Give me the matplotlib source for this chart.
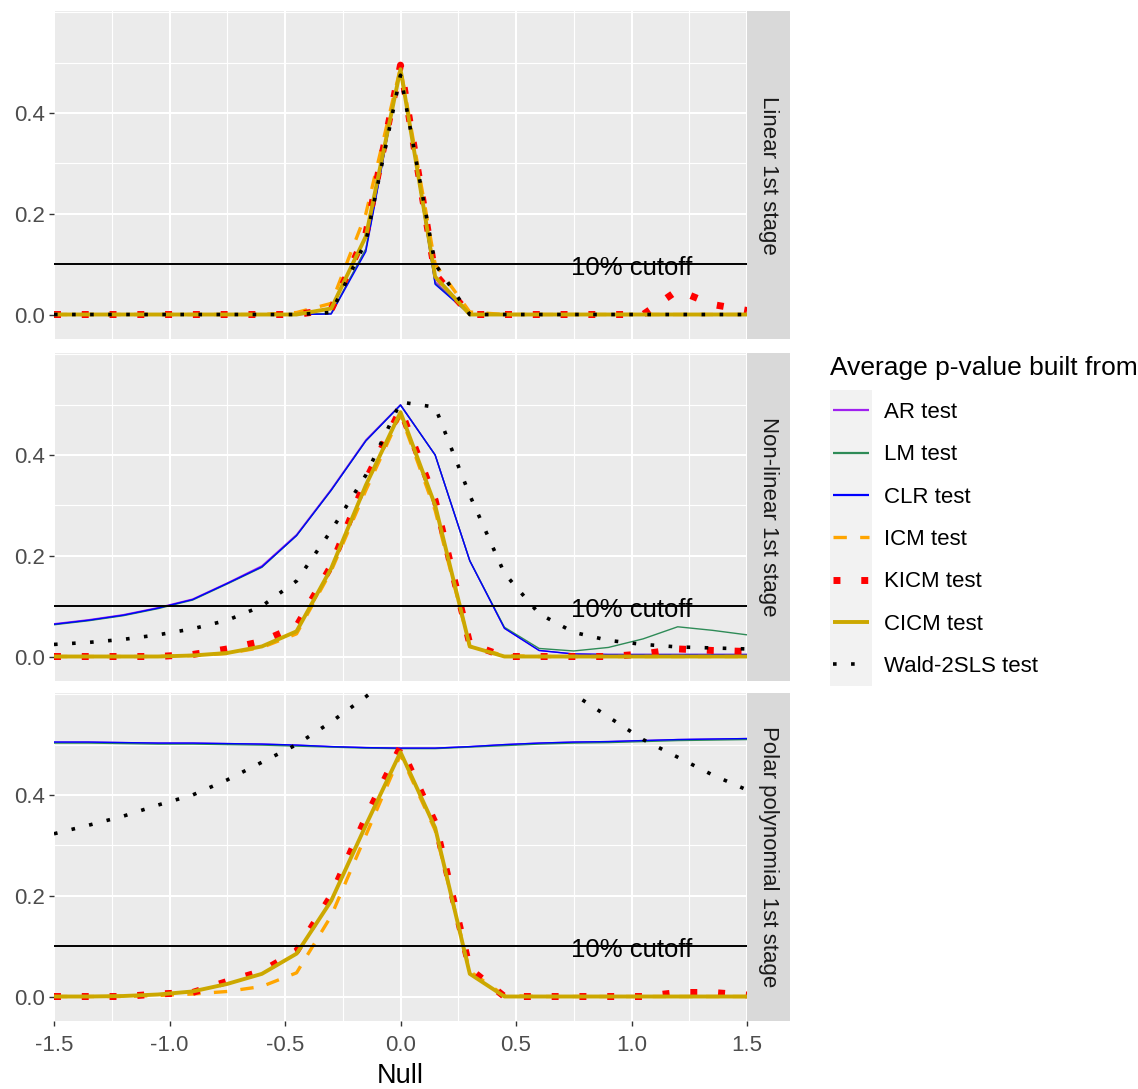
import matplotlib
matplotlib.use("Agg")
import matplotlib.pyplot as plt
from matplotlib.lines import Line2D
from matplotlib.patches import Rectangle
from matplotlib.ticker import MultipleLocator

plt.rcParams['font.family'] = ['Liberation Sans', 'DejaVu Sans']

# ---------------- data ----------------
null_grid = [-1.5, -1.35, -1.2, -1.05, -0.9, -0.75, -0.6, -0.45, -0.3, -0.15, 0.0,
             0.15, 0.3, 0.45, 0.6, 0.75, 0.9, 1.05, 1.2, 1.35, 1.5]

panel_labels = ["Linear 1st stage", "Non-linear 1st stage", "Polar polynomial 1st stage"]
test_labels = ["AR test", "LM test", "CLR test", "ICM test", "KICM test", "CICM test", "Wald-2SLS test"]

# Linear 1st stage
lin_ar   = [0, 0, 0, 0, 0, 0, 0, 0, 0.002, 0.13, 0.49, 0.065, 0, 0, 0, 0, 0, 0, 0, 0, 0]
lin_lm   = [0, 0, 0, 0, 0, 0, 0, 0, 0.002, 0.13, 0.49, 0.062, 0, 0, 0, 0, 0, 0, 0, 0, 0]
lin_clr  = [0, 0, 0, 0, 0, 0, 0, 0, 0.001, 0.125, 0.49, 0.06, 0, 0, 0, 0, 0, 0, 0, 0, 0]
lin_icm  = [0, 0, 0, 0, 0, 0, 0, 0.004, 0.022, 0.2, 0.49, 0.1, 0.005, 0, 0, 0, 0, 0, 0, 0, 0]
lin_kicm = [0, 0, 0, 0, 0, 0, 0, 0, 0.01, 0.16, 0.495, 0.08, 0, 0, 0, 0, 0, 0, 0.048, 0.02, 0.008]
lin_cicm = [0, 0, 0, 0, 0, 0, 0, 0, 0.012, 0.155, 0.487, 0.075, 0, 0, 0, 0, 0, 0, 0, 0, 0]
lin_wald = [0, 0, 0, 0, 0, 0, 0, 0, 0.004, 0.145, 0.475, 0.1, 0, 0, 0, 0, 0, 0, 0, 0, 0]

# Non-linear 1st stage
nl_ar   = [0.065, 0.073, 0.083, 0.097, 0.114, 0.146, 0.18, 0.242, 0.332, 0.43, 0.5, 0.40, 0.19, 0.056, 0.012, 0.005, 0.004, 0.004, 0.004, 0.004, 0.004]
nl_lm   = [0.063, 0.071, 0.081, 0.095, 0.112, 0.144, 0.177, 0.24, 0.33, 0.428, 0.499, 0.40, 0.19, 0.058, 0.016, 0.011, 0.018, 0.035, 0.059, 0.052, 0.043]
nl_clr  = [0.064, 0.072, 0.082, 0.096, 0.113, 0.145, 0.178, 0.24, 0.33, 0.428, 0.499, 0.40, 0.19, 0.056, 0.012, 0.005, 0.004, 0.004, 0.004, 0.004, 0.004]
nl_icm  = [0, 0, 0, 0, 0.002, 0.006, 0.018, 0.045, 0.17, 0.33, 0.48, 0.29, 0.02, 0.002, 0, 0, 0, 0, 0, 0, 0]
nl_kicm = [0, 0, 0, 0, 0.004, 0.015, 0.03, 0.06, 0.18, 0.35, 0.49, 0.31, 0.025, 0, 0, 0, 0, 0.005, 0.015, 0.012, 0.01]
nl_cicm = [0, 0, 0, 0, 0.002, 0.007, 0.02, 0.05, 0.175, 0.34, 0.485, 0.30, 0.02, 0, 0, 0, 0, 0, 0, 0, 0]
nl_wald = [0.024, 0.028, 0.034, 0.043, 0.055, 0.072, 0.1, 0.15, 0.25, 0.36, 0.505, 0.495, 0.32, 0.165, 0.085, 0.048, 0.032, 0.024, 0.019, 0.017, 0.015]

# Polar polynomial 1st stage
pp_ar   = [0.505, 0.505, 0.504, 0.503, 0.503, 0.502, 0.501, 0.499, 0.496, 0.494, 0.493, 0.493, 0.496, 0.5, 0.503, 0.505, 0.506, 0.508, 0.51, 0.511, 0.512]
pp_lm   = [0.503, 0.503, 0.502, 0.501, 0.501, 0.5, 0.499, 0.497, 0.495, 0.493, 0.492, 0.492, 0.495, 0.498, 0.501, 0.503, 0.504, 0.506, 0.508, 0.509, 0.51]
pp_clr  = [0.505, 0.505, 0.504, 0.503, 0.503, 0.502, 0.501, 0.499, 0.496, 0.494, 0.493, 0.493, 0.496, 0.5, 0.503, 0.505, 0.506, 0.508, 0.51, 0.511, 0.512]
pp_icm  = [0, 0, 0, 0.002, 0.005, 0.01, 0.02, 0.047, 0.16, 0.32, 0.48, 0.33, 0.05, 0.002, 0, 0, 0, 0, 0, 0, 0]
pp_kicm = [0, 0, 0, 0.005, 0.008, 0.03, 0.05, 0.09, 0.2, 0.355, 0.495, 0.345, 0.055, 0, 0, 0, 0, 0, 0.008, 0.008, 0.003]
pp_cicm = [0, 0, 0.001, 0.004, 0.01, 0.025, 0.045, 0.085, 0.19, 0.34, 0.485, 0.335, 0.045, 0, 0, 0, 0, 0, 0, 0, 0]
pp_wald = [0.323, 0.34, 0.358, 0.38, 0.40, 0.43, 0.465, 0.50, 0.545, 0.595, 0.65, 0.69, 0.71, 0.70, 0.66, 0.60, 0.555, 0.51, 0.475, 0.44, 0.41]

cutoff = 0.1
cutoff_label = "10% cutoff"

panels = [
    [lin_ar, lin_lm, lin_clr, lin_icm, lin_kicm, lin_cicm, lin_wald],
    [nl_ar, nl_lm, nl_clr, nl_icm, nl_kicm, nl_cicm, nl_wald],
    [pp_ar, pp_lm, pp_clr, pp_icm, pp_kicm, pp_cicm, pp_wald],
]

# ---------------- styles ----------------
styles = [
    dict(color='#A020F0', lw=1.0, ls='-'),
    dict(color='#2E8B57', lw=1.0, ls='-'),
    dict(color='#0000FF', lw=1.0, ls='-'),
    dict(color='#FFA500', lw=2.4, ls=(0, (4, 4))),
    dict(color='#FF0000', lw=5.0, ls=(0, (1, 3))),
    dict(color='#CCA800', lw=2.8, ls='-'),
    dict(color='#000000', lw=2.6, ls=(0, (1, 4))),
]
legend_lw = [1.6, 1.6, 1.6, 2.4, 5.0, 2.8, 2.6]

W, H = 1138, 1089
fig = plt.figure(figsize=(W / 100, H / 100), dpi=100)

ax_left = 54 / W
ax_w = (747 - 54) / W
strip_w = 43 / W
tops = [10.7, 352.7, 692.7]
ph = 328.5 / H

tick_col = '#4D4D4D'
axes = []
for i, (lab, series) in enumerate(zip(panel_labels, panels)):
    y0 = 1 - (tops[i] / H) - ph
    ax = fig.add_axes([ax_left, y0, ax_w, ph])
    axes.append(ax)
    ax.set_facecolor('#EBEBEB')
    for s in ax.spines.values():
        s.set_visible(False)
    ax.set_xlim(-1.5, 1.5)
    ax.set_ylim(-0.049, 0.603)
    ax.xaxis.set_major_locator(MultipleLocator(0.5))
    ax.xaxis.set_minor_locator(MultipleLocator(0.25))
    ax.yaxis.set_major_locator(MultipleLocator(0.2))
    ax.yaxis.set_minor_locator(MultipleLocator(0.1))
    ax.grid(which='major', color='white', lw=1.5)
    ax.grid(which='minor', color='white', lw=0.8)
    ax.set_axisbelow(True)
    ax.tick_params(which='minor', length=0)
    ax.tick_params(which='major', length=3.8, width=1.0, color='#333333',
                   labelsize=16, labelcolor=tick_col)
    ax.tick_params(axis='y', pad=3)
    ax.set_yticks([0.0, 0.2, 0.4])
    ax.set_yticklabels(['0.0', '0.2', '0.4'])
    if i < 2:
        ax.tick_params(axis='x', which='both', length=0, labelbottom=False)
    else:
        ax.set_xticks([-1.5, -1.0, -0.5, 0.0, 0.5, 1.0, 1.5])
        ax.set_xticklabels(['-1.5', '-1.0', '-0.5', '0.0', '0.5', '1.0', '1.5'])
        ax.tick_params(axis='x', pad=6)
        ax.set_xlabel('Null', fontsize=19.5, color='black', labelpad=5)

    for vals, st in zip(series, styles):
        ax.plot(null_grid, vals, color=st['color'], lw=st['lw'], ls=st['ls'],
                dash_capstyle='butt', solid_capstyle='butt', clip_on=True)
    ax.axhline(cutoff, color='black', lw=1.4, zorder=5)
    ax.text(1.0, cutoff - 0.007, cutoff_label, fontsize=18.5, ha='center',
            va='center', color='black', zorder=6)

    sax = fig.add_axes([ax_left + ax_w, y0, strip_w, ph])
    sax.set_facecolor('#D9D9D9')
    sax.set_xticks([]); sax.set_yticks([])
    for s in sax.spines.values():
        s.set_visible(False)
    sax.text(0.5, 0.5, lab, rotation=-90, ha='center', va='center',
             fontsize=16, color='#1A1A1A', transform=sax.transAxes)

# ---------------- legend ----------------
fig.text(830 / W, 1 - 368 / H, "Average p-value built from", fontsize=19,
         ha='left', va='center', color='black')
fig.patches.append(Rectangle((830 / W, 1 - 686 / H), 42 / W, 296 / H,
                             transform=fig.transFigure, facecolor='#F2F2F2',
                             edgecolor='none', zorder=0))
handles = [Line2D([0], [0], color=st['color'], lw=lw, ls=st['ls'],
                  dash_capstyle='butt', solid_capstyle='butt')
           for st, lw in zip(styles, legend_lw)]
fig.legend(handles, test_labels, loc='upper left',
           bbox_to_anchor=(833 / W, 1 - 402 / H), frameon=False,
           fontsize=16, handlelength=1.6, handletextpad=0.7,
           labelspacing=0.96, borderpad=0, borderaxespad=0)

fig.savefig('out.png', dpi=100, facecolor='white')
